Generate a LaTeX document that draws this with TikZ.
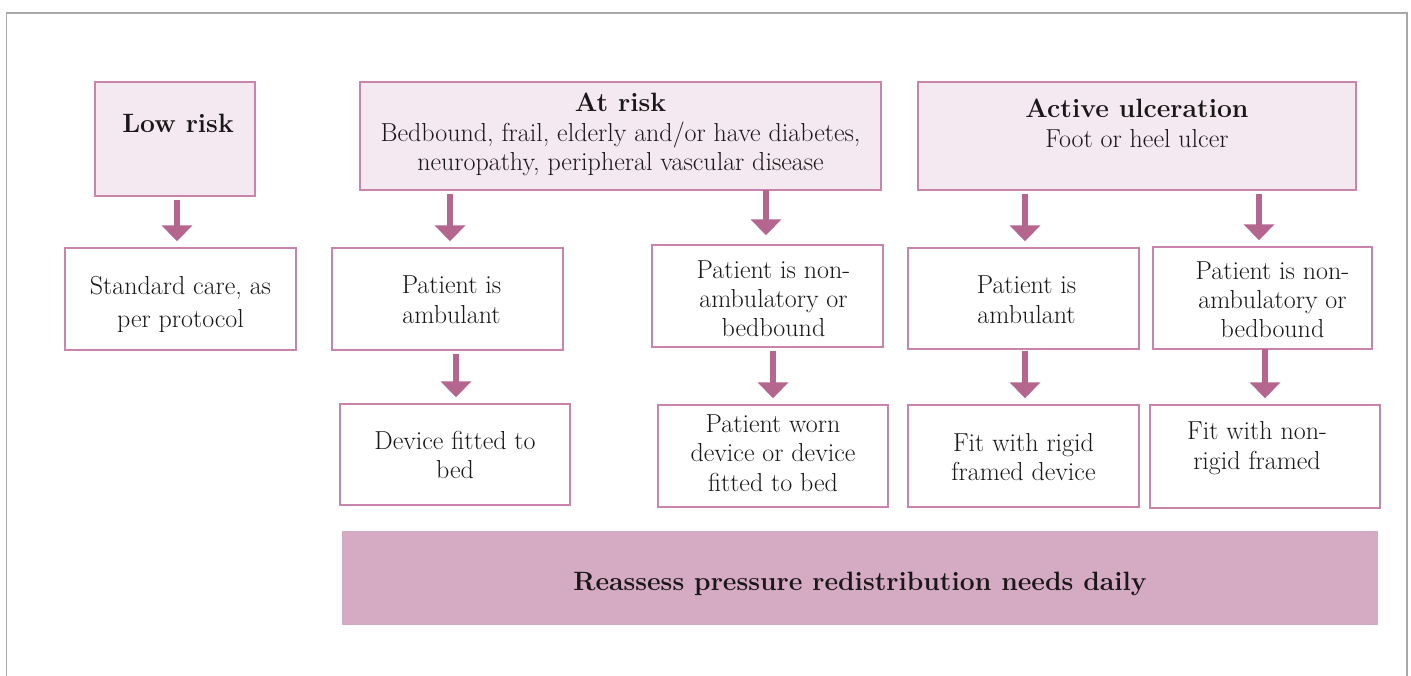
\documentclass[tikz,border=0pt]{standalone}
\usetikzlibrary{arrows.meta}
\definecolor{boxfill}{HTML}{F4E9F0}
\definecolor{boxdraw}{HTML}{C984AD}
\definecolor{arrowc}{HTML}{B4668F}
\definecolor{barfill}{HTML}{D5AAC3}
\definecolor{framec}{HTML}{A8A8A8}
\definecolor{txt}{HTML}{1A1718}
% #1 x shift, #2 raise, #3 lines
\newcommand\boxtxt[3]{\raisebox{#2}[0pt][0pt]{\makebox[0pt]{\hspace*{#1}\begin{tabular}{@{}c@{}}#3\end{tabular}\hspace*{-#1}}}}
\newcommand\ttl[1]{{\fontsize{26.5}{30}\selectfont\bfseries #1}}
\begin{document}
\begin{tikzpicture}[x=1pt,y=-1pt,
  base/.style={draw=boxdraw,line width=1.4pt,inner sep=0pt,text=txt,
    font=\fontsize{26}{30}\selectfont},
  headbox/.style={base,fill=boxfill},
  stepbox/.style={base,fill=white},
  barbox/.style={fill=barfill,inner sep=0pt,text=txt},
  arr/.style={draw=arrowc,line width=5.5pt,
    -{Triangle[width=30pt,length=16pt]},shorten <=3pt,shorten >=6pt}]
\useasboundingbox (0,0) rectangle (1411,675);
\draw[framec,line width=1.6pt] (6.5,13) rectangle (1407,690);

% top row
\node[headbox,minimum width=160pt,minimum height=114pt] (low) at (175,139)
  {\boxtxt{3pt}{6pt}{\ttl{Low risk}}};
\node[headbox,minimum width=521pt,minimum height=108pt] (atrisk) at (620.5,136)
  {\boxtxt{0pt}{-5pt}{\ttl{At risk}\\Bedbound, frail, elderly and/or have diabetes,\\[-1pt]neuropathy, peripheral vascular disease}};
\node[headbox,minimum width=438pt,minimum height=108pt] (active) at (1137,136)
  {\boxtxt{0pt}{3pt}{\ttl{Active ulceration}\\Foot or heel ulcer}};

% second row
\node[stepbox,minimum width=231pt,minimum height=102pt] (std) at (180.5,299)
  {\boxtxt{0pt}{-12pt}{Standard care, as\\[3pt]per protocol}};
\node[stepbox,minimum width=231pt,minimum height=102pt] (amb1) at (447.5,299)
  {\boxtxt{4pt}{-10pt}{Patient is\\ambulant}};
\node[stepbox,minimum width=231pt,minimum height=102pt] (nonamb1) at (767.5,296)
  {\boxtxt{6pt}{-12pt}{Patient is non-\\[-1pt]ambulatory or\\[-1pt]bedbound}};
\node[stepbox,minimum width=231pt,minimum height=101pt] (amb2) at (1023.5,298.5)
  {\boxtxt{3pt}{-10pt}{Patient is\\ambulant}};
\node[stepbox,minimum width=219pt,minimum height=102pt] (nonamb2) at (1262.5,298)
  {\boxtxt{10pt}{-11pt}{Patient is non-\\[-1pt]ambulatory or\\[-1pt]bedbound}};

% third row
\node[stepbox,minimum width=230pt,minimum height=101pt] (dev1) at (455,454.5)
  {\boxtxt{0pt}{-10pt}{Device fitted to\\[-1pt]bed}};
\node[stepbox,minimum width=230pt,minimum height=102pt] (worn) at (773,456)
  {\boxtxt{0pt}{-6pt}{Patient worn\\[-1pt]device or device\\fitted to bed}};
\node[stepbox,minimum width=231pt,minimum height=102pt] (rigid) at (1023.5,456)
  {\boxtxt{0pt}{-10pt}{Fit with rigid\\[-1pt]framed device}};
\node[stepbox,minimum width=230pt,minimum height=103pt] (nonrigid) at (1265,456.5)
  {\boxtxt{-8pt}{2pt}{Fit with non-\\rigid framed}};

% bar
\node[barbox,minimum width=1036pt,minimum height=94pt] (bar) at (860,578)
  {\boxtxt{0pt}{-8pt}{\fontsize{26.5}{30}\selectfont\bfseries Reassess pressure redistribution needs daily}};

% arrows
\draw[arr] (low.south -| 177,0) -- (std.north -| 177,0);
\draw[arr] (atrisk.south -| 450,0) -- (amb1.north -| 450,0);
\draw[arr] ([yshift=4pt]atrisk.south -| 766,0) -- ([yshift=3pt]nonamb1.north -| 766,0);
\draw[arr] (active.south -| 1025,0) -- (amb2.north -| 1025,0);
\draw[arr] (active.south -| 1259,0) -- (nonamb2.north -| 1259,0);
\draw[arr] (amb1.south -| 456,0) -- (dev1.north -| 456,0);
\draw[arr] (nonamb1.south -| 773,0) -- (worn.north -| 773,0);
\draw[arr] ([yshift=2pt]amb2.south -| 1025,0) -- (rigid.north -| 1025,0);
\draw[arr] ([yshift=4pt]nonamb2.south -| 1265,0) -- (nonrigid.north -| 1265,0);
\end{tikzpicture}
\end{document}
